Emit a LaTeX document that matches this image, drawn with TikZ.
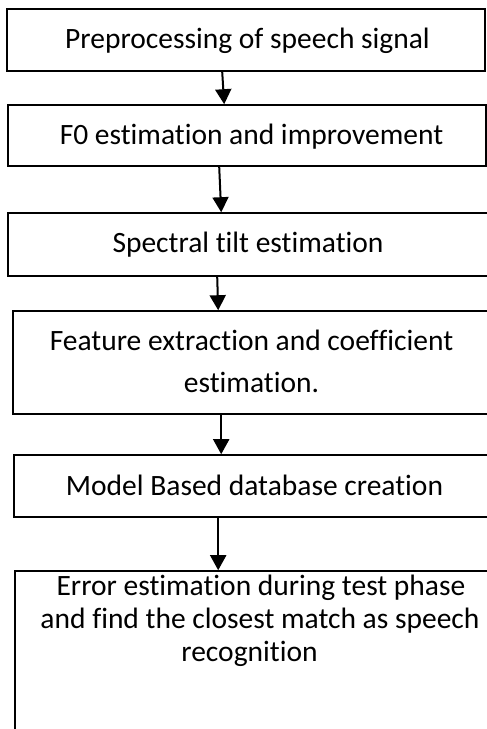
\documentclass[tikz,border=0pt]{standalone}
\usepackage{fontspec}
\setmainfont[Ligatures=NoCommon]{Carlito}
\usetikzlibrary{arrows.meta,calc}
\begin{document}
\begin{tikzpicture}[x=1pt,y=-1pt,
  stagebox/.style={draw=black,line width=1.6pt,inner sep=0pt,fill=none},
  lbl/.style={anchor=base,inner sep=0pt,font=\fontsize{29.5}{34}\selectfont,text=black},
  flow/.style={line width=2pt,-{Triangle[width=16pt,length=15pt]}}]
\useasboundingbox (0,0) rectangle (487,729);
\fill[white] (0,0) rectangle (487,729);
% boxes
\node[stagebox,minimum width=478pt,minimum height=62pt] (b1) at (246,40) {};
\node[stagebox,minimum width=478pt,minimum height=61pt] (b2) at (247,135.5) {};
\node[stagebox,minimum width=482pt,minimum height=63pt] (b3) at (249,244.5) {};
\node[stagebox,minimum width=478pt,minimum height=103pt] (b4) at (252,362.5) {};
\node[stagebox,minimum width=482pt,minimum height=62pt] (b5) at (255,486) {};
\node[stagebox,minimum width=482pt,minimum height=164pt] (b6) at (256,653) {};
% texts
\node[lbl] (t1) at (247.5,48) {Preprocessing of speech signal};
\node[lbl] (t2) at (251.5,144) {F0 estimation and improvement};
\node[lbl] (t3) at (248,252) {Spectral tilt estimation};
\node[lbl] (t4a) at (251.5,350) {Feature extraction and coefficient};
\node[lbl] (t4b) at (251.5,392) {estimation.};
\node[lbl] (t5) at (254.5,495) {Model Based database creation};
\node[lbl] (t6a) at (261,595) {Error estimation during test phase};
\node[lbl] (t6b) at (260,628) {and find the closest match as speech};
\node[lbl] (t6c) at (249.5,661) {recognition};
% arrows
\draw[flow] ($(b1.south west)+(216,0)$) -- ($(b2.north west)+(217,0)$);
\draw[flow] ($(b2.south west)+(212,0)$) -- ($(b3.north west)+(214,0)$);
\draw[flow] ($(b3.south west)+(210,0)$) -- ($(b4.north west)+(206,0)$);
\draw[flow] ($(b4.south west)+(209,0)$) -- ($(b5.north west)+(208,0)$);
\draw[flow] ($(b5.south west)+(205,0)$) -- ($(b6.north west)+(204,0)$);
\end{tikzpicture}
\end{document}
